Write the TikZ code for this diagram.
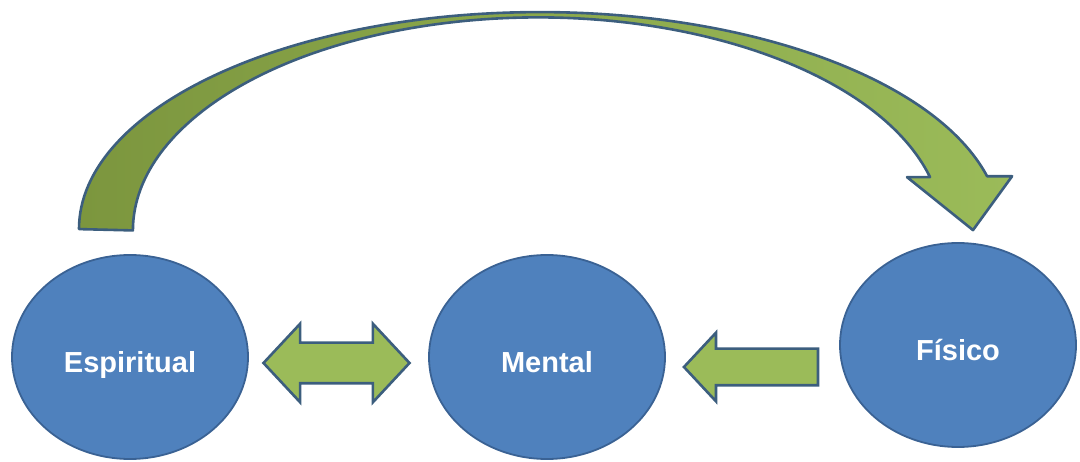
\documentclass[tikz,border=0pt]{standalone}
\usepackage{fontspec}
\setmainfont{Liberation Sans}
\usepackage{tikz}
\usetikzlibrary{shapes.geometric,shapes.arrows,arrows.meta,positioning,calc}
\definecolor{nodeblue}{RGB}{79,129,189}
\definecolor{edgeblue}{RGB}{58,98,148}
\definecolor{arrowgreen}{RGB}{155,187,89}
\definecolor{arrowolive}{RGB}{124,150,62}
\definecolor{arrowedge}{RGB}{60,94,126}
\tikzset{
  plane/.style ={ellipse, draw=edgeblue, line width=1.8pt, fill=nodeblue,
                 minimum width=236pt, minimum height=204pt, inner sep=0pt,
                 text=white, font=\fontsize{29}{34}\selectfont\bfseries,
                 text height=32pt, text depth=0pt},
  twoway/.style={double arrow, draw=arrowedge, line width=2.6pt, fill=arrowgreen,
                 minimum height=146pt, inner sep=19pt, double arrow head extend=19pt,
                 double arrow tip angle=94},
  oneway/.style={single arrow, draw=arrowedge, line width=2.6pt, fill=arrowgreen,
                 minimum height=134pt, inner sep=17pt, single arrow head extend=16pt,
                 single arrow tip angle=94},
  bigarc/.style={draw=arrowedge, line width=2.6pt, line join=round,
                 left color=arrowolive, right color=arrowgreen}
}
\begin{document}
\begin{tikzpicture}[x=1pt, y=1pt]
\useasboundingbox (0,0) rectangle (1080,461);
\node[plane] (esp) at (130,104) {Espiritual};
\node[plane] (men) at (547,104) {Mental};
\node[plane] (fis) at (958,116) {Físico};

% block arrows between the planes
\node[twoway] (em) at ($(esp.east)!0.5!(men.west)+(-2,-6)$) {};
\node[oneway, shape border rotate=180] (fm) at ($(men.east)!0.5!(fis.west)+(7,-16)$) {};

% big curved arrow from Espiritual to Fisico
\coordinate (tail) at ($(esp.north)+(-51,25)$);
\coordinate (tip)  at ($(fis.north)+(15,12)$);
\draw[bigarc] (tail) arc[start angle=180, end angle=14.1, x radius=461, y radius=217]
  -- ++(25,0) -- (tip) -- ++(-66,53) -- ++(23,0)
  arc[start angle=14.5, end angle=180, x radius=405, y radius=213] -- cycle;
\end{tikzpicture}
\end{document}
